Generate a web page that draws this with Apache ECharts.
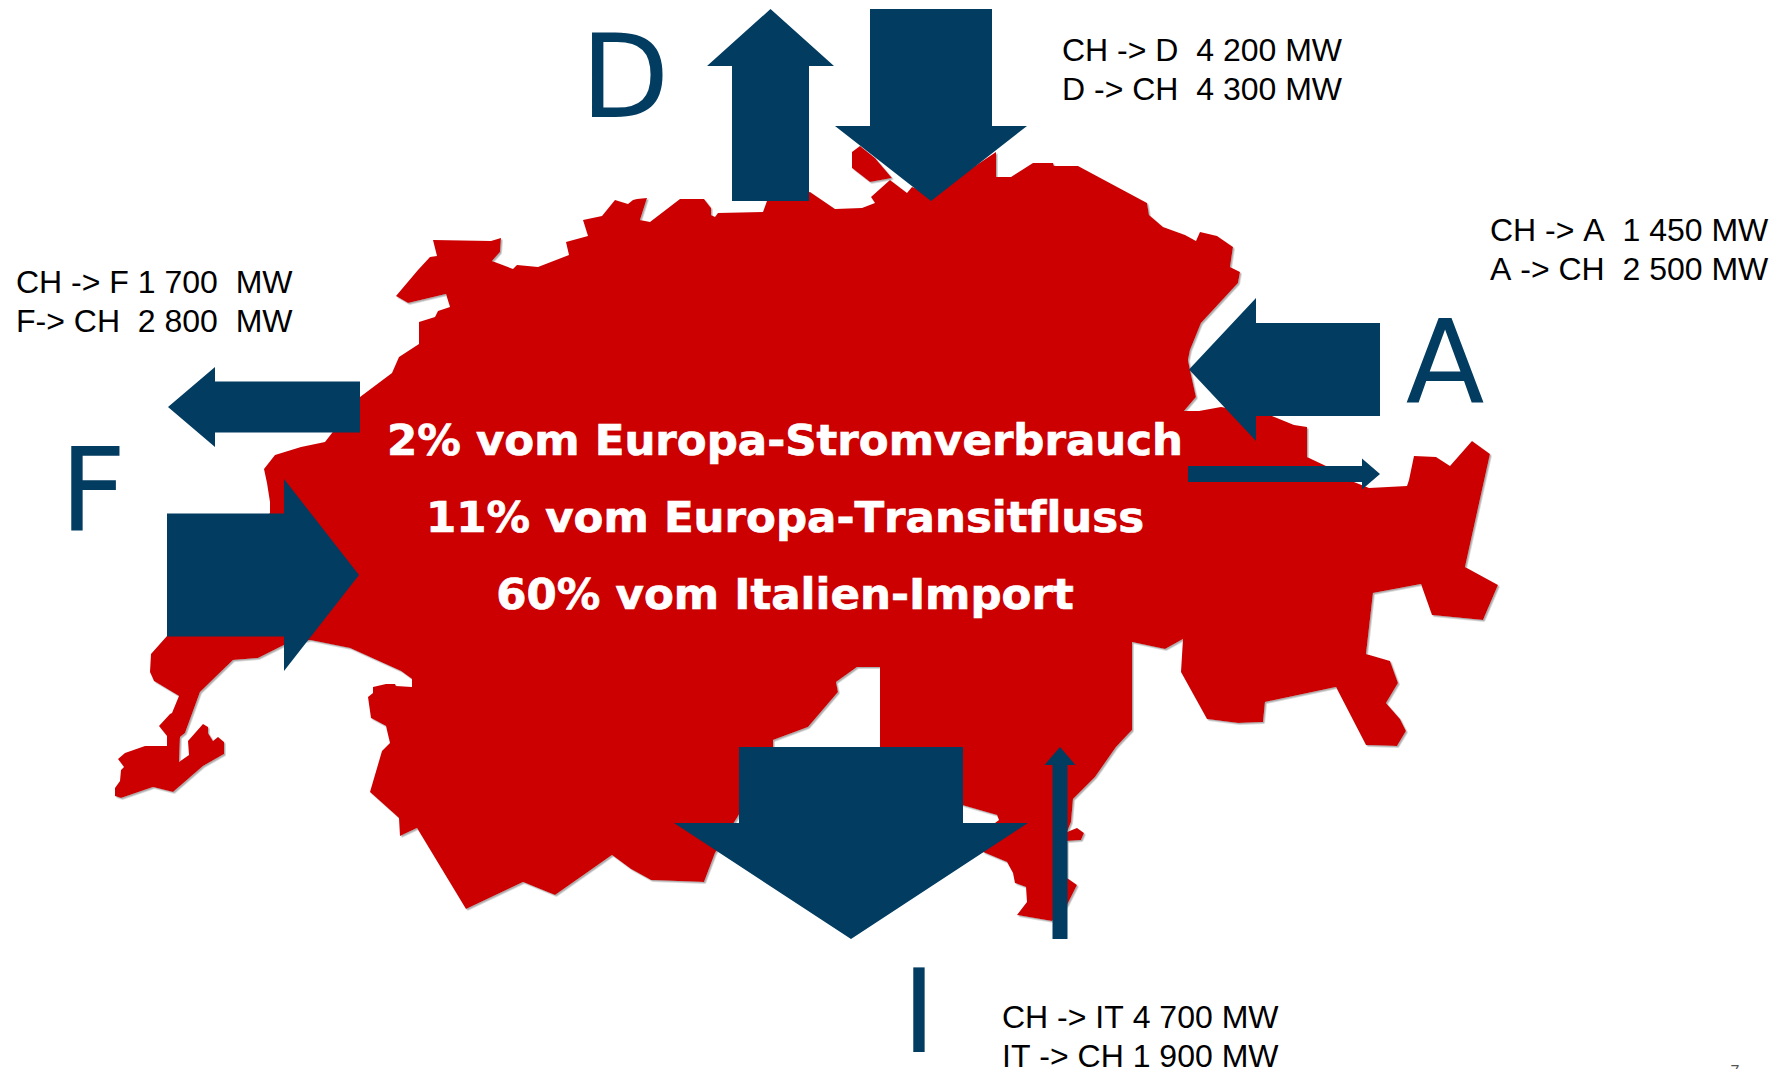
<!DOCTYPE html>
<html>
<head>
<meta charset="utf-8">
<script src="https://cdn.jsdelivr.net/npm/echarts@6/dist/echarts.min.js"></script>
<style>
  html, body { margin: 0; padding: 0; background: #fff; }
  #main { width: 1786px; height: 1069px; }
  text { font-variant-ligatures: none !important; font-kerning: none !important; }
</style>
</head>
<body>
<div id="main"></div>
<script>
  // Landesumriss (Achseneinheiten)
  var mainland = [
    [433,240],[491,241],[501,238],[500,252],[492,261],[513,269],[517,265],[538,267],[569,255],[566,242],
    [588,236],[583,220],[602,216],[615,200],[628,204],[633,200],[637,199],[647,198],[640,220],[650,222],
    [680,199],[704,199],[711,208],[711,215],[715,217],[718,213],[763,212],[767,201],[775,200],[810,192],
    [835,209],[862,208],[875,203],[871,197],[890,180],[907,193],[912,187],[932,195],[996,152],[996,177],
    [1011,177],[1033,163],[1053,163],[1054,166],[1078,166],[1147,203],[1149,215],[1163,227],[1185,235],[1196,241],
    [1200,232],[1217,236],[1233,247],[1230,267],[1240,272],[1238,283],[1201,323],[1190,350],[1188,360],[1190,370],
    [1196,397],[1184,411],[1199,411],[1221,407],[1272,416],[1294,425],[1307,427],[1307,457],[1326,466],[1354,482],
    [1369,488],[1407,486],[1409,480],[1414,456],[1436,457],[1450,466],[1472,441],[1490,454],[1465,567],[1498,585],
    [1483,620],[1432,615],[1421,584],[1373,593],[1366,654],[1390,661],[1398,683],[1386,703],[1400,719],[1406,731],
    [1397,746],[1366,745],[1336,687],[1265,702],[1263,722],[1238,723],[1207,719],[1181,672],[1183,639],[1165,649],
    [1132,642],[1132,730],[1116,747],[1095,777],[1073,799],[1071,822],[1067,832],[1077,828],[1084,833],[1081,840],
    [1067,841],[1067,878],[1077,885],[1067,905],[1052,921],[1017,915],[1027,902],[1026,887],[1015,883],[1013,873],
    [1007,862],[983,852],[995,823],[999,820],[997,815],[962,805],[880,747],[880,667],[857,667],[836,682],
    [838,692],[808,727],[773,740],[773,760],[715,853],[704,882],[651,880],[631,869],[612,855],[555,895],
    [523,882],[466,909],[417,828],[400,836],[399,818],[370,792],[382,751],[390,743],[386,726],[371,718],
    [368,697],[373,693],[373,687],[386,684],[395,684],[396,686],[412,687],[412,679],[401,671],[350,648],
    [310,640],[284,645],[258,658],[233,660],[200,692],[185,733],[180,737],[179,762],[189,755],[188,741],
    [203,724],[208,727],[208,733],[213,741],[218,737],[224,742],[224,754],[203,766],[173,792],[153,787],
    [121,798],[115,796],[115,788],[120,781],[121,770],[124,767],[118,759],[125,753],[145,746],[167,746],
    [167,736],[159,726],[170,714],[172,713],[179,696],[154,681],[150,672],[151,654],[167,636],[270,513],
    [270,502],[267,483],[264,469],[275,455],[301,447],[325,442],[332,433],[360,397],[372,388],[392,373],
    [399,357],[419,344],[419,322],[435,317],[438,311],[450,307],[446,294],[408,303],[396,296],[418,270],
    [430,257],[437,256]
  ];
  var enclave = [[852,152],[860,146],[875,158],[892,178],[870,182],[852,168]];
  var regions = [mainland, enclave];

  // Pfeile: D raus, D rein, A rein, A raus, F raus, F rein, I raus, I rein
  var arrowTails = [[770.5,201],[931,9],[1380,369.5],[1188,474],[360,407],[167,575],[851,747],[1060,939]];
  var arrowTips = [[770.5,9],[931,201],[1189,369.5],[1380,474],[168,407],[359,575],[851,939],[1060,747]];
  var shaftWidths = [77,122,93,16,51,123,224,15];
  var headWidths = [127,192,143,31,80,192,354,31];
  var headLengths = [57,75,67,18,47,75,116,18];

  var flowLabels = [
    'CH -> D  4 200 MW', 'D -> CH  4 300 MW',
    'CH -> A  1 450 MW', 'A -> CH  2 500 MW',
    'CH -> F 1 700  MW', 'F-> CH  2 800  MW',
    'CH -> IT 4 700 MW', 'IT -> CH 1 900 MW'
  ];
  var flowLabelPos = [[1062,50],[1062,89],[1490,230],[1490,269],[16,282],[16,321],[1002,1017],[1002,1056]];

  var countryLabels = ['D', 'A', 'F', 'I'];
  var countryLabelPos = [[625,77],[1445,363],[93,490],[919,1012]];

  var statLines = ['2% vom Europa-Stromverbrauch', '11% vom Europa-Transitfluss', '60% vom Italien-Import'];
  var statLinePos = [[785,440],[785,517],[785,594]];

  var pageNumber = ['7'];
  var pageNumberPos = [[1735,1071]];

  var red = '#cc0000';
  var blue = '#023c60';

  function arrowShape(tail, tip, shaft, head, len) {
    var dx = tip[0] - tail[0], dy = tip[1] - tail[1];
    var d = Math.sqrt(dx * dx + dy * dy);
    var ux = dx / d, uy = dy / d;
    var nx = -uy, ny = ux;
    var bx = tip[0] - ux * len, by = tip[1] - uy * len;
    return [
      [tail[0] + nx * shaft / 2, tail[1] + ny * shaft / 2],
      [bx + nx * shaft / 2, by + ny * shaft / 2],
      [bx + nx * head / 2, by + ny * head / 2],
      tip,
      [bx - nx * head / 2, by - ny * head / 2],
      [bx - nx * shaft / 2, by - ny * shaft / 2],
      [tail[0] - nx * shaft / 2, tail[1] - ny * shaft / 2]
    ];
  }

  function polygonSeries(polygons, style, z) {
    return {
      type: 'custom',
      coordinateSystem: 'cartesian2d',
      clip: false,
      silent: true,
      z: z,
      data: polygons.map(function (p, i) { return [i]; }),
      renderItem: function (params, api) {
        var pts = polygons[api.value(0)].map(function (p) { return api.coord(p); });
        return { type: 'polygon', shape: { points: pts }, style: style };
      }
    };
  }

  function textSeries(texts, pos, style, z) {
    return {
      type: 'custom',
      coordinateSystem: 'cartesian2d',
      clip: false,
      silent: true,
      z: z,
      data: texts.map(function (t, i) { return [i]; }),
      renderItem: function (params, api) {
        var i = api.value(0);
        var c = api.coord(pos[i]);
        return {
          type: 'text',
          style: Object.assign({ text: texts[i], x: c[0], y: c[1], verticalAlign: 'middle' }, style)
        };
      }
    };
  }

  var arrows = arrowTails.map(function (t, i) {
    return arrowShape(t, arrowTips[i], shaftWidths[i], headWidths[i], headLengths[i]);
  });

  var myChart = echarts.init(document.getElementById('main'), null, { renderer: 'svg' });
  var option = {
    animation: false,
    backgroundColor: '#fff',
    grid: { left: 0, right: 0, top: 0, bottom: 0 },
    xAxis: { type: 'value', min: 0, max: 1786, show: false },
    yAxis: { type: 'value', min: 0, max: 1069, inverse: true, show: false },
    series: [
      polygonSeries(regions, {
        fill: red, shadowColor: 'rgba(120,120,120,0.6)', shadowBlur: 1, shadowOffsetX: 1.5, shadowOffsetY: 1.5
      }, 1),
      polygonSeries(arrows, { fill: blue }, 2),
      textSeries(flowLabels, flowLabelPos, {
        fill: '#000', font: '32px "Liberation Sans"', align: 'left'
      }, 3),
      textSeries(countryLabels, countryLabelPos, {
        fill: blue, font: '115px "DejaVu Sans"', align: 'center'
      }, 3),
      textSeries(statLines, statLinePos, {
        fill: '#fff', stroke: '#fff', lineWidth: 0.7, font: 'bold 43.5px "DejaVu Sans"', align: 'center'
      }, 3),
      textSeries(pageNumber, pageNumberPos, {
        fill: '#555', font: '16px "Liberation Sans"', align: 'center'
      }, 3)
    ]
  };
  myChart.setOption(option);
</script>
</body>
</html>
